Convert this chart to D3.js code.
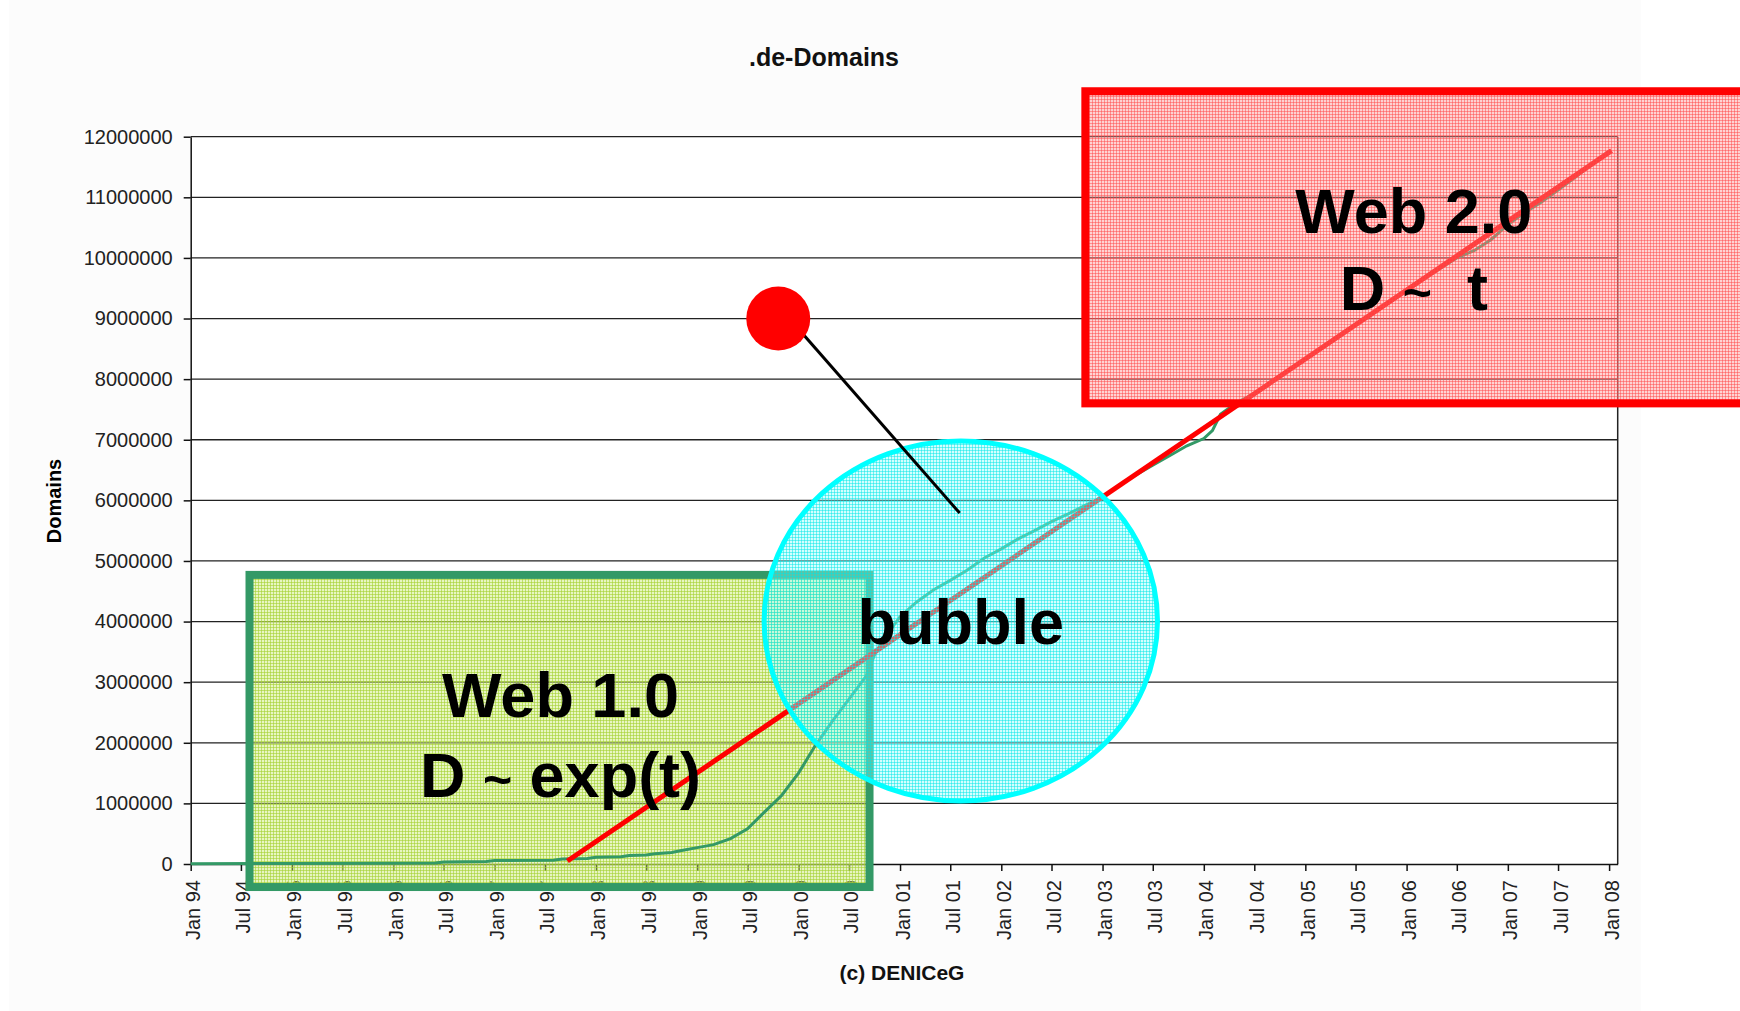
<!DOCTYPE html>
<html>
<head>
<meta charset="utf-8">
<script src="https://cdn.jsdelivr.net/npm/d3@7"></script>
<style>
  body { margin: 0; background: #fff; }
  text { font-family: "Liberation Sans", Arial, sans-serif; }
</style>
</head>
<body>
<script>
const GREEN = "#339966"
const RED = "#ff0000"
const CYAN = "#00ffff"

// .de domains (month, count)
const months = ["1994-01", "1995-01", "1996-01", "1996-06", "1996-07", "1996-12", "1997-01", "1997-08", "1997-09", "1997-12",
    "1998-01", "1998-04", "1998-05", "1998-07", "1998-08", "1998-10", "1998-11", "1999-01", "1999-03", "1999-05",
    "1999-07", "1999-09", "1999-11", "2000-01", "2000-03", "2000-05", "2000-07", "2000-09", "2000-10", "2000-11",
    "2001-01", "2001-03", "2001-05", "2001-07", "2001-09", "2001-11", "2002-01", "2002-03", "2002-05", "2002-07",
    "2002-09", "2002-11", "2003-01", "2003-03", "2003-05", "2003-07", "2003-09", "2003-11", "2004-01", "2004-02",
    "2004-03", "2004-05", "2004-07", "2004-11", "2005-03", "2005-07", "2005-11", "2006-03", "2006-07", "2006-09",
    "2006-11", "2007-01", "2007-03", "2007-05", "2007-07", "2007-09", "2007-11", "2008-01"];
const domains = [5000, 8000, 12000, 15000, 34000, 40000, 56000, 62000, 84000, 90000,
    110000, 120000, 140000, 150000, 170000, 190000, 220000, 270000, 320000, 420000,
    580000, 860000, 1130000, 1500000, 1950000, 2350000, 2720000, 3100000, 3450000, 3700000,
    4080000, 4320000, 4520000, 4680000, 4850000, 5050000, 5200000, 5360000, 5500000, 5650000,
    5780000, 5920000, 6050000, 6250000, 6420000, 6580000, 6740000, 6900000, 7020000, 7150000,
    7420000, 7620000, 7760000, 8140000, 8520000, 8890000, 9270000, 9650000, 10000000, 10120000,
    10300000, 10550000, 10740000, 10920000, 11120000, 11330000, 11550000, 11760000];

// red trend line
const trendDates = ["1997-09-20", "2008-01-10"];
const trendValues = [50000, 11770000];

const yTicks = [0, 1000000, 2000000, 3000000, 4000000, 5000000, 6000000, 7000000, 8000000, 9000000, 10000000, 11000000, 12000000];

// annotations, in data units
const greenBoxDates = ["1994-08-01", "2000-09-13"];
const greenBoxValues = [4770000, -380000];
const redBoxDates = ["2002-10-31", "2009-09-01"];
const redBoxValues = [12750000, 7600000];
const bubbleCenter = ["2001-08-08", 4010000];
const bubbleHalf = [709, 2970000]; // days, domains
const dotCenter = ["1999-10-20", 9000000];
const pointerDates = ["2000-01-20", "2001-08-04"];
const pointerValues = [8730000, 5790000];
const web1Pos = ["1997-08-26", 2430000, 1110000];
const bubblePos = ["2001-08-08", 3625000];
const web2Pos = ["2006-01-27", 10410000, 9140000];

let width = 1740, height = 1011;
let parseM = d3.timeParse("%Y-%m");
let parseD = d3.timeParse("%Y-%m-%d");

let x = d3.scaleTime().domain([parseD("1994-01-01"), parseD("2008-02-01")]).range([190.7, 1617.7]);
let y = d3.scaleLinear().domain([0, 12000000]).range([864, 136.7]);

let svg = d3.select("body").append("svg").attr("width", width).attr("height", height);

let defs = svg.append("defs");
function dither(id, base, line) {
    let p = defs.append("pattern").attr("id", id).attr("patternUnits", "userSpaceOnUse")
        .attr("width", 3).attr("height", 3);
    p.append("rect").attr("width", 3).attr("height", 3).attr("fill", base);
    p.append("path").attr("d", "M0 0.5H3M0.5 0V3").attr("stroke", line).attr("stroke-width", 1);
}
dither("pGreen", "rgba(205,235,120,0.45)", "rgba(165,210,50,0.6)");
dither("pRed", "rgba(255,150,150,0.42)", "rgba(255,70,70,0.48)");
dither("pCyan", "rgba(150,255,255,0.42)", "rgba(0,230,230,0.48)");

svg.append("rect").attr("x", 9).attr("y", 0).attr("width", 1632).attr("height", height).attr("fill", "#fcfcfc");
svg.append("rect").attr("x", x.range()[0]).attr("y", y(12000000))
    .attr("width", x.range()[1] - x.range()[0]).attr("height", y(0) - y(12000000)).attr("fill", "#fff");

// gridlines
svg.append("g").selectAll("line").data(yTicks.slice(1)).join("line")
    .attr("x1", x.range()[0]).attr("x2", x.range()[1])
    .attr("y1", d => y(d)).attr("y2", d => y(d))
    .attr("stroke", "#222").attr("stroke-width", 1.3);
svg.append("line").attr("x1", x.range()[1]).attr("x2", x.range()[1])
    .attr("y1", y(12000000)).attr("y2", y(0)).attr("stroke", "#222").attr("stroke-width", 1.5);

// axes
let yAxis = svg.append("g").attr("transform", "translate(" + x.range()[0] + ",0)")
    .call(d3.axisLeft(y).tickValues(yTicks).tickFormat(d3.format("d")).tickSize(7).tickPadding(11).tickSizeOuter(0));
yAxis.selectAll("text").attr("font-size", "20px").attr("fill", "#222").attr("font-family", "Liberation Sans, Arial");
yAxis.selectAll("line, path").attr("stroke", "#111").attr("stroke-width", 1.5);

let xAxis = svg.append("g").attr("transform", "translate(0," + y(0) + ")")
    .call(d3.axisBottom(x).ticks(d3.timeMonth.every(6)).tickFormat(d3.timeFormat("%b %y")).tickSize(7).tickSizeOuter(0));
xAxis.selectAll("text")
    .attr("transform", "rotate(-90)")
    .attr("text-anchor", "end")
    .attr("x", -16).attr("y", 0).attr("dy", "0.45em")
    .attr("font-size", "20px").attr("fill", "#222").attr("font-family", "Liberation Sans, Arial");
xAxis.selectAll("line, path").attr("stroke", "#111").attr("stroke-width", 1.5);

// titles
svg.append("text").text(".de-Domains").attr("x", 824).attr("y", 66)
    .attr("text-anchor", "middle").attr("font-size", "25px").attr("font-weight", "bold").attr("fill", "#111");
svg.append("text").text("Domains").attr("transform", "translate(54,501) rotate(-90)")
    .attr("text-anchor", "middle").attr("dy", "0.35em").attr("font-size", "20px").attr("font-weight", "bold");
svg.append("text").text("(c) DENICeG").attr("x", 902).attr("y", 980)
    .attr("text-anchor", "middle").attr("font-size", "21px").attr("font-weight", "bold").attr("fill", "#111");

// green box (Web 1.0)
svg.append("rect")
    .attr("x", x(parseD(greenBoxDates[0]))).attr("y", y(greenBoxValues[0]))
    .attr("width", x(parseD(greenBoxDates[1])) - x(parseD(greenBoxDates[0])))
    .attr("height", y(greenBoxValues[1]) - y(greenBoxValues[0]))
    .attr("fill", "url(#pGreen)").attr("stroke", GREEN).attr("stroke-width", 8);

// data line
let data = months.map((m, i) => ({ date: parseM(m), value: domains[i] }));
let line = d3.line().x(d => x(d.date)).y(d => y(d.value));
svg.append("path").datum(data).attr("d", line)
    .attr("fill", "none").attr("stroke", GREEN).attr("stroke-width", 3);

// trend line
let trend = trendDates.map((t, i) => ({ date: parseD(t), value: trendValues[i] }));
svg.append("path").datum(trend).attr("d", line)
    .attr("fill", "none").attr("stroke", RED).attr("stroke-width", 5);

// bubble ellipse
let bc = parseD(bubbleCenter[0]);
svg.append("ellipse")
    .attr("cx", x(bc)).attr("cy", y(bubbleCenter[1]))
    .attr("rx", x(d3.timeDay.offset(bc, bubbleHalf[0])) - x(bc))
    .attr("ry", y(0) - y(bubbleHalf[1]))
    .attr("fill", "url(#pCyan)").attr("stroke", CYAN).attr("stroke-width", 5);

// red box (Web 2.0)
svg.append("rect")
    .attr("x", x(parseD(redBoxDates[0]))).attr("y", y(redBoxValues[0]))
    .attr("width", x(parseD(redBoxDates[1])) - x(parseD(redBoxDates[0])))
    .attr("height", y(redBoxValues[1]) - y(redBoxValues[0]))
    .attr("fill", "url(#pRed)").attr("stroke", RED).attr("stroke-width", 8);

// pointer
svg.append("line")
    .attr("x1", x(parseD(pointerDates[0]))).attr("y1", y(pointerValues[0]))
    .attr("x2", x(parseD(pointerDates[1]))).attr("y2", y(pointerValues[1]))
    .attr("stroke", "#000").attr("stroke-width", 3);
svg.append("circle")
    .attr("cx", x(parseD(dotCenter[0]))).attr("cy", y(dotCenter[1])).attr("r", 32)
    .attr("fill", RED);

// labels
function bigText(px, py) {
    return svg.append("text").attr("x", px).attr("y", py)
        .attr("text-anchor", "middle").attr("font-size", "63px").attr("font-weight", "bold")
        .attr("fill", "#000").style("white-space", "pre");
}
let w1x = x(parseD(web1Pos[0]));
bigText(w1x, y(web1Pos[1])).text("Web 1.0");
let t1 = bigText(w1x, y(web1Pos[2]));
t1.append("tspan").text("D ");
t1.append("tspan").text("~").attr("font-size", "50px");
t1.append("tspan").text(" exp(t)");

bigText(x(parseD(bubblePos[0])), y(bubblePos[1])).text("bubble");

let w2x = x(parseD(web2Pos[0]));
bigText(w2x, y(web2Pos[1])).text("Web 2.0");
let t2 = bigText(w2x, y(web2Pos[2]));
t2.append("tspan").text("D ");
t2.append("tspan").text("~").attr("font-size", "50px");
t2.append("tspan").text("  t");
</script>
</body>
</html>
